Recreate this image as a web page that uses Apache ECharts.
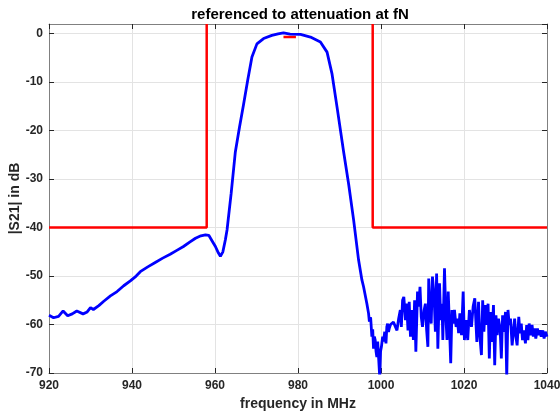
<!DOCTYPE html>
<html>
<head>
    <meta charset="utf-8">
    <title>S21</title>
    <script src="https://cdn.jsdelivr.net/npm/echarts@6/dist/echarts.min.js"></script>
    <style>
        *{margin: 0;padding: 0;}
    </style>
</head>
<body>
    <div id="main" style="width: 560px;height:416px;"></div>
    <script type="text/javascript">
        var passFreq = [920, 921.1, 922.3, 923.4, 924.5, 925.6, 926.7, 928.2, 929.2, 930, 930.7, 932, 933.2, 934.8, 936.4, 938, 939.6, 941, 942, 943.8,
            945.6, 947.4, 949.2, 950.8, 952.4, 953.9, 955.3, 956.6, 957.7, 958.5, 959.2, 960.1, 960.8, 961.3, 961.9, 962.5, 962.9, 963.9, 964.9,
            965.9, 966.9, 967.9, 968.9, 970.1, 971.7, 973.7, 975.2, 976.5, 978.1, 980.6, 983, 985.4, 987, 988.2, 989.4, 991, 992.2, 993.4, 994.6, 995.4];
        var passDb = [-58.1, -58.6, -58.3, -57.2, -58.2, -57.8, -57.2, -57.8, -57.4, -56.5, -56.9, -56.1, -55.2, -54.1, -53.2, -52.0, -51.0, -50.0, -49.1, -48.1,
            -47.2, -46.3, -45.5, -44.7, -43.9, -43.0, -42.2, -41.7, -41.5, -41.6, -42.6, -43.9, -45.2, -45.9, -45.0, -42.5, -40.5, -32.9, -24.4,
            -19.3, -14.5, -9.5, -4.8, -2.1, -1.0, -0.35, -0.05, 0.15, -0.1, -0.15, -0.7, -1.7, -3.8, -8.3, -15.1, -24.4, -31.0, -38.4, -46.7, -50.8];
        var stopFreq = [995.8, 996.6, 997.0, 997.2, 997.5, 997.8, 998.0, 998.2, 998.4, 998.6, 998.8, 999.0, 999.2, 999.4, 999.7, 999.9, 1000.1,
            1000.4, 1000.6, 1000.9, 1001.2, 1001.4, 1001.6, 1001.8, 1002.0, 1002.3, 1002.6, 1003.0,
            1003.45, 1003.85, 1004.25, 1004.65, 1004.9, 1005.2, 1005.5, 1005.9, 1006.2, 1006.5, 1006.8, 1007.1, 1007.5, 1007.8, 1008.1, 1008.4,
            1008.8, 1009.1, 1009.4, 1009.7, 1010.0, 1010.4, 1010.7, 1011.0, 1011.3, 1011.5, 1011.8, 1012.1, 1012.4, 1012.8, 1013.1, 1013.4,
            1013.7, 1014.1, 1014.4, 1014.7, 1014.9, 1015.3, 1015.6, 1015.9, 1016.2, 1016.5, 1016.8, 1017.1, 1017.4, 1017.7, 1018.1, 1018.4,
            1018.7, 1019.0, 1019.4, 1019.8, 1020.1, 1020.5, 1020.9, 1021.3, 1021.8, 1022.2, 1022.6,
            1023.1, 1023.5, 1023.8, 1024.2, 1024.5, 1024.8, 1025.1, 1025.4, 1025.8, 1026.1, 1026.4, 1026.7, 1027.1, 1027.4, 1027.7, 1028.0,
            1028.3, 1028.7, 1029.0, 1029.3, 1029.6, 1030.0, 1030.3, 1030.6, 1030.9, 1031.2, 1031.6, 1031.9, 1032.2, 1032.5, 1032.8, 1033.2,
            1033.5, 1033.8, 1034.1, 1034.4, 1034.8, 1035.1, 1035.4, 1035.7, 1036.1, 1036.4, 1036.7, 1037.0, 1037.3, 1037.7, 1038.0, 1038.3,
            1038.6, 1039.0, 1039.3, 1039.6, 1040.0];
        var stopDb = [-52.2, -55.7, -57.7, -59.4, -58.5, -62.5, -61.0, -65.0, -62.5, -63.2, -65.5, -66.7, -63.5, -63.9, -71.0, -65.5, -64.6,
            -62.5, -63.5, -61.5, -63.9, -60.5, -59.8, -61.5, -60.8, -60.0, -60.1, -59.5,
            -59.8, -61.2, -58.8, -57.0, -60.5, -55.0, -54.3, -59.1, -55.7, -61.2, -55.3, -62.5, -57.0, -63.2, -55.0, -65.6,
            -53.2, -56.3, -52.2, -58.4, -60.5, -57.0, -55.7, -61.2, -64.6, -50.5, -57.0, -59.8, -50.1, -54.3, -61.5, -49.5,
            -65.0, -51.5, -59.1, -55.7, -63.2, -48.4, -57.7, -63.2, -53.2, -60.5, -68.0, -57.0, -59.8, -57.0, -60.5, -58.8,
            -61.8, -57.7, -62.2, -53.2, -63.2, -59.1, -63.2, -57.0, -60.5, -56.3, -54.6,
            -63.6, -55.3, -62.2, -66.3, -55.0, -61.5, -56.0, -60.1, -55.7, -67.0, -57.4, -63.6, -56.0, -68.4, -58.1, -62.2,
            -58.8, -60.8, -67.0, -58.1, -61.5, -57.4, -71.0, -57.0, -60.1, -58.8, -64.3, -61.5, -58.8, -62.5, -64.3, -58.4,
            -61.8, -59.8, -63.2, -61.2, -63.9, -60.1, -63.2, -59.8, -62.2, -60.1, -62.5, -60.8, -62.9, -60.8, -62.2, -61.2,
            -62.5, -61.2, -62.9, -61.5, -62.5];

        // tolerance mask
        var maskLeft = [[920, -40], [958, -40], [958, 2]];
        var maskRight = [[998, 2], [998, -40], [1040, -40]];
        var refMark = [[976.5, -0.7], [979.5, -0.7]];

        var s21 = [];
        for (var i = 0; i < passFreq.length; i++) s21.push([passFreq[i], passDb[i]]);
        for (var j = 0; j < stopFreq.length; j++) s21.push([stopFreq[j], stopDb[j]]);

        var myChart = echarts.init(document.getElementById('main'));
        var axisCol = '#262626';
        var lbl = {color: '#262626', fontFamily: 'Arial', fontWeight: 'bold', fontSize: 12};

        var option = {
            animation: false,
            title: {
                text: 'referenced to attenuation at fN',
                left: 295, top: 2, textAlign: 'center',
                textStyle: {fontFamily: 'Arial', fontSize: 15, fontWeight: 'bold', color: '#000'}
            },
            grid: {left: 49, right: 13, top: 24, bottom: 43, outerBoundsMode: 'none'},
            xAxis: [{
                type: 'value', min: 920, max: 1040, interval: 20,
                name: 'frequency in MHz', nameLocation: 'middle', nameGap: 24,
                nameTextStyle: {fontFamily: 'Arial', fontWeight: 'bold', fontSize: 14, color: '#262626'},
                axisLine: {onZero: false, lineStyle: {color: '#808080'}},
                axisTick: {inside: true, length: 5, lineStyle: {color: axisCol}},
                axisLabel: Object.assign({margin: 7, formatter: function (v) { return String(v); }}, lbl),
                splitLine: {show: true, lineStyle: {color: '#e3e3e3'}}
            }, {
                type: 'value', min: 920, max: 1040, interval: 20, position: 'top',
                axisLine: {onZero: false, lineStyle: {color: '#808080'}},
                axisTick: {inside: true, length: 5, lineStyle: {color: axisCol}},
                axisLabel: {show: false}, splitLine: {show: false}
            }],
            yAxis: [{
                type: 'value', min: -70, max: 2, interval: 10,
                name: '|S21| in dB', nameLocation: 'middle', nameGap: 27, nameMoveOverlap: false,
                nameTextStyle: {fontFamily: 'Arial', fontWeight: 'bold', fontSize: 14, color: '#262626'},
                axisLine: {show: true, onZero: false, lineStyle: {color: '#808080'}},
                axisTick: {show: true, inside: true, length: 5, lineStyle: {color: axisCol}},
                axisLabel: Object.assign({margin: 6, showMaxLabel: false}, lbl),
                splitLine: {show: true, lineStyle: {color: '#e3e3e3'}}
            }, {
                type: 'value', min: -70, max: 2, interval: 10, position: 'right',
                axisLine: {show: true, onZero: false, lineStyle: {color: '#808080'}},
                axisTick: {show: true, inside: true, length: 5, lineStyle: {color: axisCol}},
                axisLabel: {show: false}, splitLine: {show: false}
            }],
            series: [
                {type: 'line', data: maskLeft, symbol: 'none', lineStyle: {color: '#ff0000', width: 2.5}},
                {type: 'line', data: maskRight, symbol: 'none', lineStyle: {color: '#ff0000', width: 2.5}},
                {type: 'line', data: refMark, symbol: 'none', lineStyle: {color: '#ff0000', width: 2.5}},
                {type: 'line', data: s21, symbol: 'none', clip: true, lineStyle: {color: '#0000ff', width: 2.8}}
            ]
        };

        myChart.setOption(option);
    </script>
</body>
</html>
